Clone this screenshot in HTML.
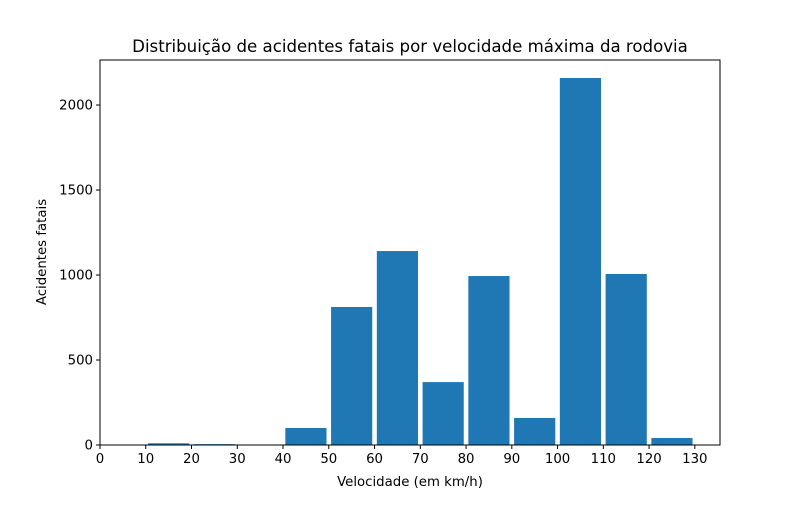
<!DOCTYPE html>
<html><head><meta charset="utf-8"><style>
body{margin:0;background:#fff;}
svg text{font-family:"DejaVu Sans","Liberation Sans",sans-serif;fill:#000;}
</style></head><body>
<svg id="chart" width="800" height="500" xmlns="http://www.w3.org/2000/svg">
<rect width="800" height="500" fill="#fff"/>
<text x="410" y="52" font-size="16.6" text-anchor="middle">Distribuição de acidentes fatais por velocidade máxima da rodovia</text>
<g id="bars"></g>
<g id="axes"></g>
<text x="410" y="486" font-size="13.3" text-anchor="middle">Velocidade (em km/h)</text>
<text x="46" y="252" font-size="13.3" text-anchor="middle" transform="rotate(-90 46 252)">Acidentes fatais</text>
</svg>
<script>
const binStarts = [10,20,30,40,50,60,70,80,90,100,110,120];
const counts = [10,5,0,100,812,1141,370,994,159,2159,1006,41];
const xTicks = [0,10,20,30,40,50,60,70,80,90,100,110,120,130];
const yTicks = [0,500,1000,1500,2000];
const L=100,R=720,T=60,B=445, xMax=135.5, yMax=2265;
const sx=v=>L+(v/xMax)*(R-L);
const sy=v=>B-(v/yMax)*(B-T);
const NS="http://www.w3.org/2000/svg";
const bars=document.getElementById('bars'), axes=document.getElementById('axes');
binStarts.forEach((b,i)=>{
  const r=document.createElementNS(NS,'rect');
  
  
  const x0=sx(b+0.5), x1=sx(b+9.5);
  r.setAttribute('x',x0);r.setAttribute('width',x1-x0);
  r.setAttribute('y',sy(counts[i]));r.setAttribute('height',B-sy(counts[i]));
  r.setAttribute('fill','#1f77b4');
  bars.appendChild(r);
});
const frame=document.createElementNS(NS,'rect');


frame.setAttribute('x',L);frame.setAttribute('y',T);frame.setAttribute('width',R-L);frame.setAttribute('height',B-T);
frame.setAttribute('fill','none');frame.setAttribute('stroke','#000');frame.setAttribute('stroke-width','1');
axes.appendChild(frame);
xTicks.forEach(t=>{
  const l=document.createElementNS(NS,'line');
  
  
  l.setAttribute('x1',sx(t));l.setAttribute('x2',sx(t));l.setAttribute('y1',B);l.setAttribute('y2',B+4);l.setAttribute('stroke','#000');
  axes.appendChild(l);
  const tx=document.createElementNS(NS,'text');
  
  
  tx.setAttribute('x',sx(t));tx.setAttribute('y',B+18);tx.setAttribute('font-size','13.3');tx.setAttribute('text-anchor','middle');
  tx.textContent=t;axes.appendChild(tx);
});
yTicks.forEach(t=>{
  const l=document.createElementNS(NS,'line');
  
  
  l.setAttribute('x1',L-4);l.setAttribute('x2',L);l.setAttribute('y1',sy(t));l.setAttribute('y2',sy(t));l.setAttribute('stroke','#000');
  axes.appendChild(l);
  const tx=document.createElementNS(NS,'text');
  
  
  tx.setAttribute('x',L-7);tx.setAttribute('y',sy(t)+4.5);tx.setAttribute('font-size','13.3');tx.setAttribute('text-anchor','end');
  tx.textContent=t;axes.appendChild(tx);
});
</script>
</body></html>
